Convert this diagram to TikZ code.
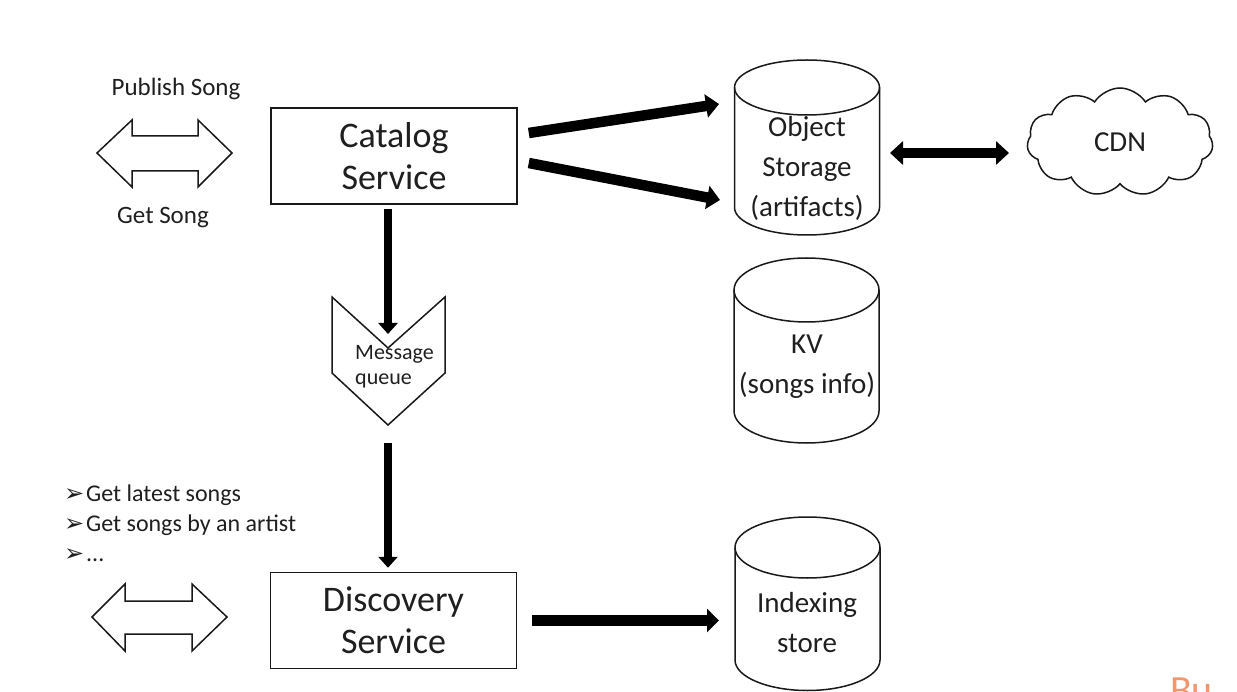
\documentclass[tikz,border=0pt]{standalone}
\usepackage{fontspec}
\setmainfont{Carlito}
\newfontfamily\dejavu{DejaVu Sans}
\usetikzlibrary{arrows.meta,shapes.symbols,calc}
\newcommand\cylpath[5]{% cx, top center y, bottom center y, rx, ry
  \draw[cylline] (#1,#2) ellipse [x radius=#4pt, y radius=#5pt];
  \draw[cylline] (#1-#4,#2) -- (#1-#4,#3) arc [start angle=180, end angle=360, x radius=#4pt, y radius=#5pt] -- (#1+#4,#2);
}
\newcommand\blt{\makebox[22pt][l]{\dejavu\fontsize{24}{30}\selectfont ➢}}
\begin{document}
\begin{tikzpicture}[x=1pt,y=-1pt,
  txt/.style={text=black!88},
  cylline/.style={line width=1.5pt, draw=black!90},
  box/.style={draw=black!90, line width=1.5pt, minimum width=246pt, minimum height=96pt, align=center, inner sep=0pt, txt, font=\fontsize{36}{42}\selectfont},
  lbl/.style={txt, font=\fontsize{25}{30}\selectfont, inner sep=0pt},
  cyltext/.style={txt, align=center, inner sep=0pt, font=\fontsize{29}{40}\selectfont},
  fat/.style={line width=10.5pt, draw=black, -{Triangle[length=13pt,width=23pt]}},
  fatboth/.style={line width=10pt, draw=black, {Triangle[length=13pt,width=23pt]}-{Triangle[length=13pt,width=23pt]}},
  vert/.style={line width=8pt, draw=black, -{Triangle[length=11pt,width=19pt]}},
  outline/.style={draw=black!90, line width=1.5pt, line join=miter},
]
\useasboundingbox (0,0) rectangle (1237,692);
\clip (0,0) rectangle (1237,692);

% left top double arrow and labels
\node[lbl] (pub) at (176,89) {Publish Song};
\node[lbl] (get) at (163,218) {Get Song};
\draw[outline] (97,153) -- (132,120) -- (132,136) -- (198,136) -- (198,120) -- (232,153)
  -- (198,187) -- (198,171) -- (132,171) -- (132,187) -- cycle;

% Catalog service
\node[box] (cat) at (394,156) {Catalog\\Service};

% Object storage
\cylpath{807}{87.5}{207.5}{72.5}{27.5}
\node[cyltext] (obj) at (807,168) {Object\\Storage\\(artifacts)};
\coordinate (objin1) at (719,104);
\coordinate (objin2) at (720,200);
\coordinate (objout) at (890,153);

% CDN
\node[cloud, draw=black!90, line width=1.5pt, cloud puffs=11, cloud puff arc=115, aspect=1.9,
  minimum width=186pt, minimum height=108pt, inner sep=0pt, txt, font=\fontsize{29}{34}\selectfont] (cdn) at (1120,142) {CDN};
\coordinate (cdnin) at (1009,153);

\draw[fat] ($(cat.east)+(11,-23)$) -- (objin1);
\draw[fat] ($(cat.east)+(11,7)$) -- (objin2);
\draw[fatboth] (objout) -- (cdnin);

% Message queue
\draw[outline] (332,297) -- (388,348) -- (445,297) -- (445,373) -- (388,425) -- (332,373) -- cycle;
\node[txt, align=left, inner sep=0pt, font=\fontsize{22}{25}\selectfont, anchor=north west] (mq) at (355,345) {Message\\queue};
\coordinate (mqtop) at (388,334);
\coordinate (mqbot) at (388,443);
\draw[vert] ($(cat.south)+(-6,4)$) -- (mqtop);

% KV
\cylpath{806.5}{290}{411}{72.5}{32}
\node[cyltext] (kv) at (807,367) {KV\\(songs info)};

% Bullets
\node[txt, align=left, anchor=west, inner sep=0pt, font=\fontsize{24}{30}\selectfont] (bul) at (64,523)
  {\blt Get latest songs\\\blt Get songs by an artist\\\blt ...};

% Discovery service
\node[box] (disc) at (393.5,620.5) {Discovery\\Service};
\draw[vert] (mqbot) -- ($(disc.north)+(-5.5,-4)$);

% bottom-left double arrow
\draw[outline] (92,617) -- (125,584) -- (125,601) -- (192,601) -- (192,584) -- (227,617)
  -- (192,651) -- (192,634) -- (125,634) -- (125,651) -- cycle;

% Indexing store
\cylpath{807.5}{547.5}{660}{72.5}{30.5}
\node[cyltext] (idx) at (807,623) {Indexing\\store};
\coordinate (idxin) at (719,620.5);
\draw[line width=11pt, draw=black, -{Triangle[length=12pt,width=23pt]}] ($(disc.east)+(15,0)$) -- (idxin);

% watermark fragment
\node[anchor=north west, inner sep=0pt, text={rgb,255:red,242;green,150;blue,110}, font=\fontsize{40}{40}\selectfont] (wm) at (1170,678) {Bu};
\end{tikzpicture}
\end{document}
